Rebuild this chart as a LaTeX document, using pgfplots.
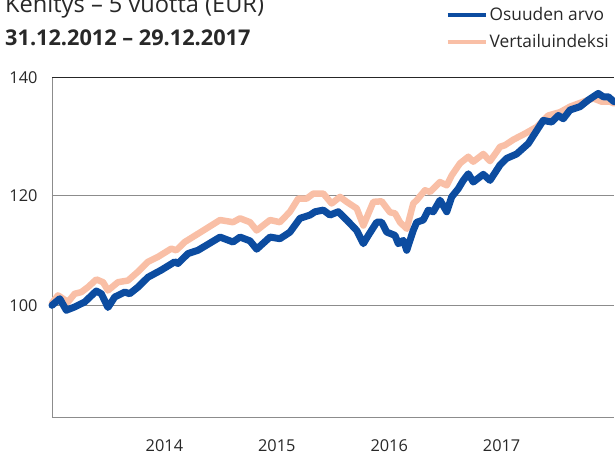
\documentclass[border=0pt]{standalone}
\usepackage{fontspec}
\setmainfont{Open Sans}
\usepackage{pgfplots}
\pgfplotsset{compat=1.18}
\definecolor{fundblue}{RGB}{12,76,160}
\definecolor{benchpink}{RGB}{249,191,166}
\definecolor{gridgray}{RGB}{140,140,140}
\definecolor{txt}{RGB}{40,40,40}
\begin{document}
\begin{tikzpicture}
\useasboundingbox (0bp,0bp) rectangle (615bp,455bp);
\clip (0bp,0bp) rectangle (615bp,455bp);
\node[anchor=base west, inner sep=0pt, text=txt, font=\fontsize{23.7}{26}\selectfont] at (5bp,442bp) {Kehitys – 5 vuotta (EUR)};
\node[anchor=base west, inner sep=0pt, text=txt, font=\fontsize{21.8}{24}\selectfont\bfseries] at (5bp,409bp) {31.12.2012 – 29.12.2017};
\begin{axis}[
  at={(52bp,38bp)}, anchor=south west,
  scale only axis, width=562bp, height=339.5bp,
  xmin=2013, xmax=2018, ymin=79.7, ymax=141.4,
  axis x line*=bottom, axis y line*=left,
  axis line style={gridgray, line width=0.8pt},
  xtick={2014,2015,2016,2017},
  ytick={100,120},
  extra y ticks={141.4}, extra y tick labels={140},
  extra y tick style={grid style={black!85, line width=0.9pt}},
  ymajorgrids, grid style={gridgray, line width=0.8pt},
  major tick length=0pt,
  /pgf/number format/1000 sep={},
  /pgf/number format/assume math mode=true,
  tick label style={font=\fontsize{16.4}{19}\selectfont, text=txt},
  yticklabel style={xshift=-11bp},
  xticklabel style={yshift=-19bp},
  legend style={at={(axis description cs:0.70,1.212)}, anchor=north west, draw=none, fill=none,
    font=\fontsize{17.4}{20}\selectfont, text=txt, row sep=8bp, inner sep=0pt,
    nodes={inner sep=2bp}},
  legend cell align=left,
  reverse legend,
  legend image code/.code={\draw[#1, line width=4bp, line cap=butt] (0bp,0bp) -- (38bp,0bp);},
  clip=false,
]
\addplot[benchpink, line width=6.5bp, line join=round, line cap=round] coordinates {
(2013.000,100.4) (2013.053,101.8) (2013.098,101.2) (2013.142,100.6) (2013.202,102.1)
(2013.261,102.4) (2013.320,103.3) (2013.394,104.7) (2013.454,104.2) (2013.498,102.7)
(2013.587,104.2) (2013.676,104.5) (2013.765,106.1) (2013.854,107.9) (2013.943,108.8)
(2014.061,110.3) (2014.106,110.0) (2014.181,111.5) (2014.299,113.0) (2014.495,115.5)
(2014.610,115.1) (2014.673,115.8) (2014.762,115.1) (2014.821,113.6) (2014.940,115.5)
(2015.028,115.1) (2015.117,117.0) (2015.191,119.4) (2015.266,119.4) (2015.325,120.3)
(2015.414,120.3) (2015.488,118.5) (2015.562,119.7) (2015.622,118.8) (2015.711,117.6)
(2015.770,114.5) (2015.859,118.8) (2015.933,118.9) (2016.007,116.9) (2016.052,116.7)
(2016.096,115.1) (2016.156,113.9) (2016.214,118.5) (2016.245,119.1) (2016.318,120.9)
(2016.363,120.6) (2016.452,122.4) (2016.512,121.8) (2016.556,123.6) (2016.630,125.8)
(2016.704,127.0) (2016.748,126.1) (2016.837,127.5) (2016.897,126.2) (2016.956,127.9)
(2016.986,128.8) (2017.030,129.1) (2017.104,130.1) (2017.208,131.2) (2017.312,132.4)
(2017.416,134.5) (2017.520,135.1) (2017.609,136.1) (2017.727,137.0) (2017.816,137.6)
(2017.891,137.0) (2017.964,137.0) (2018.000,136.7)
};
\addlegendentry{Vertailuindeksi}
\addplot[fundblue, line width=7bp, line join=round, line cap=round] coordinates {
(2013.000,100.0) (2013.069,101.2) (2013.127,99.1) (2013.202,99.7) (2013.291,100.6)
(2013.394,102.6) (2013.439,102.1) (2013.498,99.6) (2013.558,101.5) (2013.647,102.4)
(2013.691,102.1) (2013.765,103.3) (2013.854,105.1) (2013.972,106.4) (2014.092,107.9)
(2014.121,107.6) (2014.210,109.4) (2014.299,110.0) (2014.495,112.4) (2014.610,111.5)
(2014.673,112.4) (2014.762,111.7) (2014.821,110.2) (2014.940,112.4) (2015.028,112.1)
(2015.117,113.3) (2015.206,115.8) (2015.295,116.4) (2015.340,117.0) (2015.414,117.3)
(2015.473,116.4) (2015.547,117.0) (2015.622,115.5) (2015.711,113.6) (2015.770,111.2)
(2015.814,112.7) (2015.889,115.1) (2015.933,115.1) (2015.978,113.3) (2016.052,112.7)
(2016.081,111.2) (2016.126,111.8) (2016.156,110.0) (2016.214,113.6) (2016.245,115.1)
(2016.303,115.5) (2016.348,117.3) (2016.392,117.0) (2016.452,119.1) (2016.512,117.0)
(2016.556,119.7) (2016.615,121.2) (2016.659,122.7) (2016.704,123.9) (2016.748,122.4)
(2016.837,123.8) (2016.897,122.7) (2016.986,125.5) (2017.045,126.7) (2017.134,127.5)
(2017.238,129.4) (2017.342,132.7) (2017.371,133.6) (2017.446,133.3) (2017.504,134.5)
(2017.549,133.9) (2017.609,135.5) (2017.698,136.1) (2017.771,137.3) (2017.860,138.5)
(2017.905,137.9) (2017.949,137.9) (2018.000,137.0)
};
\addlegendentry{Osuuden arvo}
\end{axis}
\end{tikzpicture}
\end{document}
